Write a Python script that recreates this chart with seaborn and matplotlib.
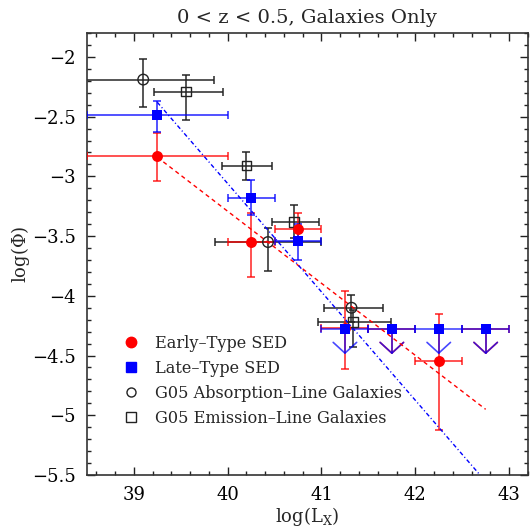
import numpy as np
import pandas as pd
import matplotlib
matplotlib.use("Agg")
import matplotlib.pyplot as plt
import seaborn as sns
from matplotlib.ticker import MultipleLocator, FuncFormatter
from matplotlib.lines import Line2D

# ---------------- data ----------------
# Early-type SED (red filled circles)
early_x = [39.25, 40.25, 40.75, 41.25, 42.25]
early_y = [-2.83, -3.55, -3.44, -4.27, -4.55]
early_xlo = [38.5, 40.0, 40.5, 41.0, 42.0]
early_xhi = [40.0, 40.5, 41.0, 41.5, 42.5]
early_ylo = [-3.04, -3.84, -3.57, -4.61, -5.12]
early_yhi = [-2.64, -3.31, -3.31, -3.96, -4.15]
# Early-type upper limits
early_lim_x = [41.75, 42.75]
early_lim_y = [-4.28, -4.28]
early_lim_xlo = [41.5, 42.5]
early_lim_xhi = [42.0, 43.0]

# Late-type SED (blue filled squares)
late_x = [39.25, 40.25, 40.75]
late_y = [-2.49, -3.18, -3.54]
late_xlo = [38.5, 40.0, 40.5]
late_xhi = [40.0, 40.5, 41.0]
late_ylo = [-2.63, -3.32, -3.70]
late_yhi = [-2.37, -3.03, -3.40]
# Late-type upper limits
late_lim_x = [41.25, 41.75, 42.25, 42.75]
late_lim_y = [-4.28, -4.28, -4.28, -4.28]
late_lim_xlo = [41.0, 41.5, 42.0, 42.5]
late_lim_xhi = [41.5, 42.0, 42.5, 43.0]

# G05 absorption-line galaxies (open circles)
abs_x = [39.10, 40.43, 41.32]
abs_y = [-2.19, -3.55, -4.10]
abs_xlo = [38.35, 39.86, 41.03]
abs_xhi = [39.85, 41.00, 41.66]
abs_ylo = [-2.42, -3.79, -4.22]
abs_yhi = [-2.02, -3.43, -3.99]

# G05 emission-line galaxies (open squares)
em_x = [39.56, 40.20, 40.71, 41.34]
em_y = [-2.29, -2.91, -3.38, -4.22]
em_xlo = [39.21, 39.94, 40.47, 40.96]
em_xhi = [39.95, 40.47, 40.97, 41.74]
em_ylo = [-2.53, -3.03, -3.52, -4.43]
em_yhi = [-2.15, -2.80, -3.24, -4.12]

# Power-law fits: value at x0 and slope
fit_x = [39.25, 42.75]
early_fit = (-2.84, -0.603)
late_fit = (-2.38, -0.907)

legend_labels = ["Early\u2013Type SED", "Late\u2013Type SED",
                 "G05 Absorption\u2013Line Galaxies", "G05 Emission\u2013Line Galaxies"]
title = "0 < z < 0.5, Galaxies Only"

# ---------------- style ----------------
sns.set_style("ticks")
plt.rcParams['font.family'] = ['DejaVu Serif']
plt.rcParams['mathtext.fontset'] = 'dejavuserif'

RED = '#ff0000'
BLUE = '#0000ff'
BLK = '#222222'

fig = plt.figure(figsize=(5.30, 5.27), dpi=100)
ax = fig.add_axes([0.164, 0.0987, 0.832, 0.8387])


def ebars(x, y, xlo, xhi, ylo, yhi, color, alpha, z):
    x = np.asarray(x); y = np.asarray(y)
    xerr = [x - np.asarray(xlo), np.asarray(xhi) - x]
    yerr = None
    if ylo is not None:
        yerr = [y - np.asarray(ylo), np.asarray(yhi) - y]
    ax.errorbar(x, y, xerr=xerr, yerr=yerr, fmt='none', ecolor=color,
                elinewidth=1.2, capsize=2.6, capthick=1.2, alpha=alpha, zorder=z)


def limits(x, y, xlo, xhi, color, alpha, z):
    ebars(x, y, xlo, xhi, None, None, color, alpha, z)
    for xi, yi in zip(x, y):
        tip = yi - 0.20
        ax.plot([xi, xi], [yi, tip], color=color, lw=1.2, alpha=alpha, zorder=z)
        ax.plot([xi - 0.125, xi, xi + 0.125], [tip + 0.09, tip, tip + 0.09],
                color=color, lw=1.2, alpha=alpha, zorder=z)


# black G05 error bars
ebars(abs_x, abs_y, abs_xlo, abs_xhi, abs_ylo, abs_yhi, BLK, 0.9, 2)
ebars(em_x, em_y, em_xlo, em_xhi, em_ylo, em_yhi, BLK, 0.9, 2)
# red and blue
ebars(early_x, early_y, early_xlo, early_xhi, early_ylo, early_yhi, RED, 0.8, 3)
limits(early_lim_x, early_lim_y, early_lim_xlo, early_lim_xhi, RED, 0.8, 3)
ebars(late_x, late_y, late_xlo, late_xhi, late_ylo, late_yhi, BLUE, 0.8, 4)
limits(late_lim_x, late_lim_y, late_lim_xlo, late_lim_xhi, BLUE, 0.72, 4)

# fit lines
fx = np.array(fit_x)
fit_df = pd.DataFrame({
    'x': np.concatenate([fx, fx]),
    'y': np.concatenate([early_fit[0] + early_fit[1] * (fx - fx[0]),
                         late_fit[0] + late_fit[1] * (fx - fx[0])]),
    'fit': ['early'] * 2 + ['late'] * 2,
})
sns.lineplot(data=fit_df[fit_df.fit == 'early'], x='x', y='y', color=RED, lw=1.0,
             ax=ax, zorder=5, legend=False, estimator=None, sort=False)
ax.lines[-1].set_dashes([3.0, 2.5])
sns.lineplot(data=fit_df[fit_df.fit == 'late'], x='x', y='y', color=BLUE, lw=1.0,
             ax=ax, zorder=5, legend=False, estimator=None, sort=False)
ax.lines[-1].set_dashes([3.0, 1.8, 0.8, 1.8])

# markers
sns.scatterplot(x=abs_x, y=abs_y, marker='o', s=58, color=BLK, ax=ax, zorder=6,
                linewidth=1.0, edgecolor=BLK, legend=False)
ax.collections[-1].set_facecolor('none')
sns.scatterplot(x=em_x, y=em_y, marker='s', s=50, color=BLK, ax=ax, zorder=6,
                linewidth=1.0, edgecolor=BLK, legend=False)
ax.collections[-1].set_facecolor('none')
sns.scatterplot(x=early_x, y=early_y, marker='o', s=62, color=RED, edgecolor=RED,
                linewidth=0, ax=ax, zorder=7, legend=False)
sns.scatterplot(x=late_x + late_lim_x, y=late_y + late_lim_y, marker='s', s=58,
                color=BLUE, edgecolor=BLUE, linewidth=0, ax=ax, zorder=7, legend=False)

# axes
ax.set_xlim(38.5, 43.2)
ax.set_ylim(-5.5, -1.8)
ax.xaxis.set_major_locator(MultipleLocator(1))
ax.xaxis.set_minor_locator(MultipleLocator(0.2))
ax.yaxis.set_major_locator(MultipleLocator(0.5))
ax.yaxis.set_minor_locator(MultipleLocator(0.1))
fmt = FuncFormatter(lambda v, p: ('%g' % v).replace('-', '\u2212'))
ax.xaxis.set_major_formatter(fmt)
ax.yaxis.set_major_formatter(fmt)
ax.tick_params(which='both', direction='in', top=True, right=True, width=1.0,
               colors='#222222', labelcolor='black', labelsize=13)
ax.tick_params(which='major', length=6.0)
ax.tick_params(which='minor', length=3.0)
ax.tick_params(axis='x', which='major', pad=8)
ax.tick_params(axis='y', which='major', pad=8)
for sp in ax.spines.values():
    sp.set_linewidth(1.2)
    sp.set_color('#333333')

ax.set_xlabel(r'log(L$_{\rm X}$)', fontsize=13, labelpad=1)
ax.set_ylabel(r'log($\Phi$)', fontsize=13, labelpad=0)
ax.set_title(title, fontsize=14, pad=7)

handles = [
    Line2D([], [], ls='none', marker='o', ms=7.5, color=RED, mec=RED),
    Line2D([], [], ls='none', marker='s', ms=7, color=BLUE, mec=BLUE),
    Line2D([], [], ls='none', marker='o', ms=6.5, mfc='none', mec=BLK, mew=1.0),
    Line2D([], [], ls='none', marker='s', ms=6.5, mfc='none', mec=BLK, mew=1.0),
]
ax.legend(handles, legend_labels, loc='upper left', bbox_to_anchor=(0.232, 0.365),
          bbox_transform=fig.transFigure, frameon=False, fontsize=11.6,
          handlelength=1.0, handletextpad=1.0, labelspacing=0.5,
          borderpad=0, borderaxespad=0)

fig.savefig('out.png', dpi=100)
